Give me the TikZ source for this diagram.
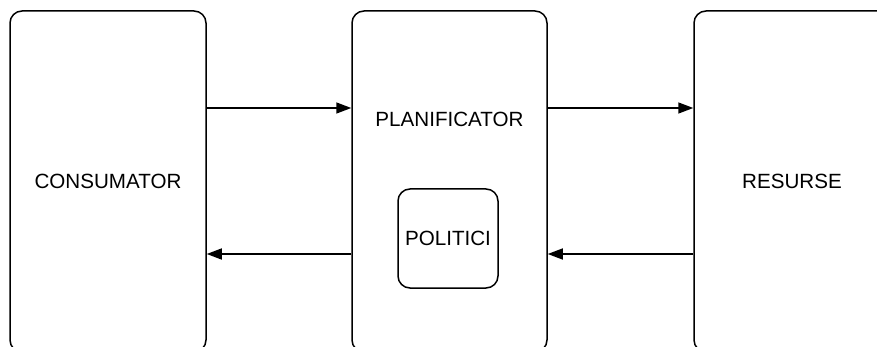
\documentclass[tikz,border=0pt]{standalone}
\usepackage{fontspec}
\setmainfont{Liberation Sans}
\usetikzlibrary{arrows.meta}

\begin{document}
\begin{tikzpicture}[>={Triangle[length=15pt,width=11pt]}, line width=1.5pt, x=1pt, y=-1pt,
    bloc/.style={draw, rounded corners=12pt, minimum width=196pt, minimum height=341pt,
      inner sep=0pt, font=\fontsize{20.6}{24}\selectfont},
    mic/.style={draw, rounded corners=12pt, minimum width=100pt, minimum height=99pt,
      inner sep=0pt, font=\fontsize{20.6}{24}\selectfont}]
  \useasboundingbox (0,0) rectangle (877,347);
  \clip (0,0) rectangle (877,347);
  \node[bloc] (cons) at (108,181.5) {CONSUMATOR};
  \node[bloc, minimum width=195pt] (plan) at (449.5,181.5) {};
  \node[bloc] (res) at (792,181.5) {RESURSE};
  \node[font=\fontsize{20.6}{24}\selectfont] (plantxt) at (449.5,119.5) {PLANIFICATOR};
  \node[mic] (pol) at (448,238.5) {POLITICI};
  % cereri
  \draw[->] (cons.east |- 0,108) -- (plan.west |- 0,108);
  \draw[->] (plan.east |- 0,108) -- (res.west |- 0,108);
  % raspunsuri
  \draw[->] (res.west |- 0,254) -- (plan.east |- 0,254);
  \draw[->] (plan.west |- 0,254) -- (cons.east |- 0,254);
\end{tikzpicture}
\end{document}
